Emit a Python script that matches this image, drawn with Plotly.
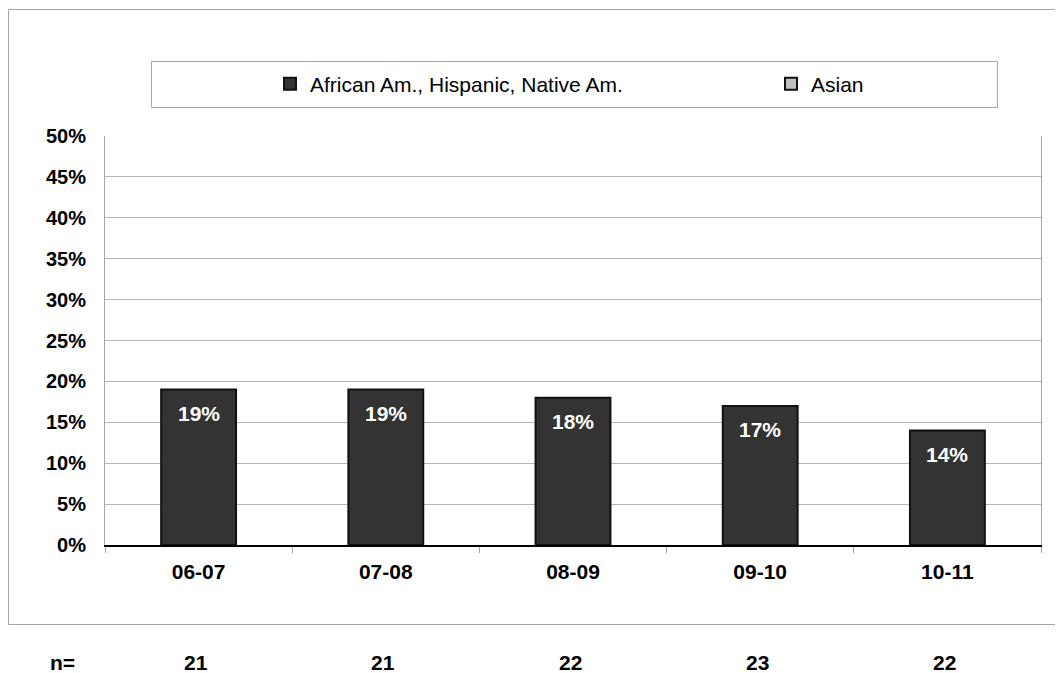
import plotly.graph_objects as go

categories = ["06-07", "07-08", "08-09", "09-10", "10-11"]
urm_share = [0.19, 0.19, 0.18, 0.17, 0.14]
asian_share = [None, None, None, None, None]
n_values = [21, 21, 22, 23, 22]
y_ticks = [i * 0.05 for i in range(11)]

FONT = "Liberation Sans, Arial, sans-serif"

# the page body has an 8px margin, so work in page pixels minus that offset
OFF = 8
W, H = 1063 - OFF, 673 - OFF
L, R, T, B = 105 - OFF, 1041 - OFF, 136 - OFF, 545 - OFF
pw, ph = R - L, B - T

def px(x):
    return (x - OFF - L) / pw

def py(y):
    return (B - (y - OFF)) / ph

fig = go.Figure()
fig.add_trace(go.Bar(
    x=categories, y=urm_share, name="African Am., Hispanic, Native Am.",
    marker=dict(color="#333333", line=dict(color="#111111", width=2)),
    width=0.4, legend="legend",
))
fig.add_trace(go.Bar(
    x=categories, y=asian_share, name="Asian",
    marker=dict(color="#C0C0C0", line=dict(color="#111111", width=2)),
    width=0.4, legend="legend2",
))

annotations = []
for c, v in zip(categories, urm_share):
    annotations.append(dict(
        x=c, y=v, xref="x", yref="y", text=f"<b>{round(v*100)}%</b>",
        showarrow=False, yanchor="middle", yshift=-24,
        font=dict(family=FONT, size=21, color="white"),
    ))
annotations.append(dict(
    x=px(62), y=py(662), xref="paper", yref="paper", text="<b>n=</b>",
    showarrow=False, xanchor="center", yanchor="middle",
    font=dict(family=FONT, size=21, color="black"),
))
for c, n in zip(categories, n_values):
    annotations.append(dict(
        x=c, y=py(662), xref="x", yref="paper", text=f"<b>{n}</b>",
        showarrow=False, xanchor="center", yanchor="middle", xshift=-3,
        font=dict(family=FONT, size=21, color="black"),
    ))

shapes = [
    dict(type="rect", xref="paper", yref="paper",
         x0=px(8.5), x1=px(1075), y0=py(624.5), y1=py(9.5),
         line=dict(color="#A6A6A6", width=1), fillcolor="rgba(0,0,0,0)", layer="below"),
    dict(type="rect", xref="paper", yref="paper",
         x0=px(151.5), x1=px(997.5), y0=py(107.5), y1=py(61.5),
         line=dict(color="#A6A6A6", width=1), fillcolor="rgba(0,0,0,0)", layer="below"),
]

legend_common = dict(
    orientation="h", yanchor="middle", xanchor="left",
    bgcolor="rgba(0,0,0,0)", borderwidth=0,
    font=dict(family=FONT, size=21, color="black"),
)

fig.update_layout(
    width=W, height=H,
    margin=dict(l=L, r=W - R, t=T, b=H - B),
    paper_bgcolor="white", plot_bgcolor="white",
    barmode="overlay",
    showlegend=True,
    legend=dict(x=px(270), y=py(84), **legend_common),
    legend2=dict(x=px(771), y=py(84), **legend_common),
    xaxis=dict(
        type="category", categoryorder="array", categoryarray=categories,
        showline=True, linecolor="black", linewidth=1.5,
        ticks="outside", tickson="boundaries", ticklen=6, tickcolor="#A6A6A6",
        showgrid=False, ticklabelstandoff=7,
        tickfont=dict(family=FONT, size=21, color="black", weight="bold"),
    ),
    yaxis=dict(
        range=[0, 0.5], tickvals=y_ticks, tickformat=".0%",
        showgrid=True, gridcolor="#B3B3B3", gridwidth=1,
        showline=True, linecolor="#A6A6A6", linewidth=1, mirror=True,
        ticks="", ticklabelstandoff=14, zeroline=False,
        tickfont=dict(family=FONT, size=20, color="black", weight="bold"),
    ),
    annotations=annotations,
    shapes=shapes,
)

fig.write_html("out.html")
